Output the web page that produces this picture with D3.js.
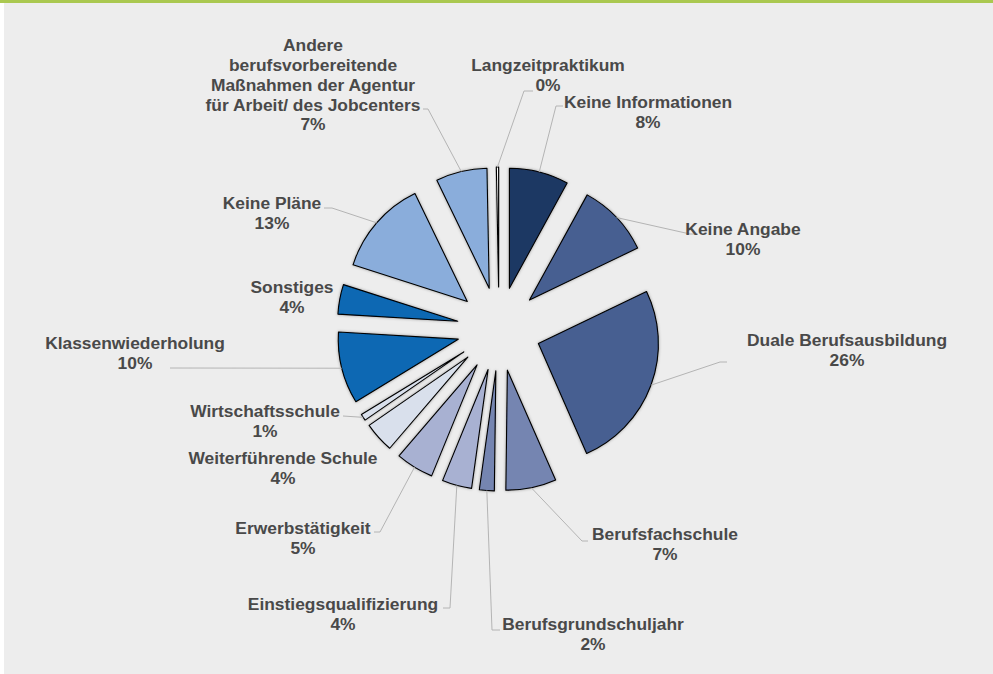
<!DOCTYPE html>
<html>
<head>
<meta charset="utf-8">
<script src="https://cdn.jsdelivr.net/npm/d3@7"></script>
<style>
  body { margin: 0; background: #ffffff; }
  svg { display: block; }
</style>
</head>
<body>
<div id="chart"></div>
<script>
(function () {
    var width = 993,
        height = 674;

    // clockwise from 12 o'clock
    var categories = ["Keine Informationen", "Keine Angabe", "Duale Berufsausbildung", "Berufsfachschule",
        "Berufsgrundschuljahr", "Einstiegsqualifizierung", "Erwerbstätigkeit", "Weiterführende Schule",
        "Wirtschaftsschule", "Klassenwiederholung", "Sonstiges", "Keine Pläne",
        "Andere\nberufsvorbereitende\nMaßnahmen der Agentur\nfür Arbeit/ des Jobcenters", "Langzeitpraktikum"];
    var values = [8.0, 9.9, 25.6, 6.8, 2.0, 4.0, 5.1, 4.1, 0.9, 9.7, 4.0, 12.9, 6.9, 0.3];
    var colors = ["#1e3763", "#465f91", "#465f91", "#7585b1", "#7585b1", "#a8b1d2", "#a8b1d2",
        "#d9e0ec", "#d9e0ec", "#0867b3", "#0867b3", "#8aaddb", "#8aaddb", "#ffffff"];

    // label centre (x, y of first line) and leader start / elbow x
    var labelPos = [[648, 102], [743, 229], [847, 340], [665, 534], [593, 624], [343, 604], [303, 528],
        [283, 458], [265, 411], [135, 343], [292, 287], [272, 203], [313, 45], [548, 65]];
    var leaderStart = [[563, 106, 556], [698, 234, 690], [727, 362, 720], [588, 541, 582], [500, 630, 492],
        [443, 608, 450], [374, 532, 380], null, [343, 416, 343], [170, 368, 170], null,
        [324, 208, 332], [423, 109, 428], [533, 91, 524]];

    var cx = 499, cy = 329, radius = 120, explode = 42, lineH = 19.8;

    var svg = d3.select("#chart")
        .append("svg")
        .attr("width", width)
        .attr("height", height);

    svg.append("rect").attr("x", 0).attr("y", 0).attr("width", width).attr("height", height).attr("fill", "#ffffff");
    svg.append("rect").attr("x", 4).attr("y", 0).attr("width", width - 4).attr("height", height).attr("fill", "#ededed");
    svg.append("rect").attr("x", 0).attr("y", 0).attr("width", width).attr("height", 3).attr("fill", "#aac850");

    var defs = svg.append("defs");
    var f = defs.append("filter").attr("id", "shadow")
        .attr("x", "-20%").attr("y", "-20%").attr("width", "140%").attr("height", "140%");
    f.append("feDropShadow").attr("dx", 0).attr("dy", 0).attr("stdDeviation", 1.6)
        .attr("flood-color", "#000").attr("flood-opacity", 0.35);

    var total = d3.sum(values);
    var data = categories.map(function (c, i) { return { name: c, value: values[i], i: i }; });

    var pie = d3.pie().sort(null).value(function (d) { return d.value; });
    var arc = d3.arc().innerRadius(0).outerRadius(radius);
    var arcs = pie(data);

    function dir(a) { return [Math.sin(a), -Math.cos(a)]; }

    var g = svg.append("g").attr("transform", "translate(" + cx + "," + cy + ")");

    // leader lines
    var leaders = svg.append("g");
    arcs.forEach(function (d, i) {
        var s = leaderStart[i];
        if (!s) return;
        var mid = (d.startAngle + d.endAngle) / 2;
        var u = dir(mid);
        var ex = cx + u[0] * (explode + radius),
            ey = cy + u[1] * (explode + radius);
        leaders.append("polyline")
            .attr("points", [[s[0], s[1]], [s[2], s[1]], [ex, ey]].map(function (p) { return p.join(","); }).join(" "))
            .attr("fill", "none")
            .attr("stroke", "#b4b4b4")
            .attr("stroke-width", 1);
    });

    g.selectAll(".slice")
        .data(arcs)
        .enter().append("path")
        .attr("class", "slice")
        .attr("d", arc)
        .attr("transform", function (d) {
            var u = dir((d.startAngle + d.endAngle) / 2);
            return "translate(" + (u[0] * explode) + "," + (u[1] * explode) + ")";
        })
        .attr("fill", function (d) { return colors[d.data.i]; })
        .attr("stroke", "#000000")
        .attr("stroke-width", 1.1)
        .attr("stroke-linejoin", "round")
        .attr("filter", "url(#shadow)");

    // labels
    var labels = svg.append("g")
        .attr("font-family", "'Liberation Sans', Arial, sans-serif")
        .attr("font-weight", "bold")
        .attr("font-size", "17.4px")
        .attr("fill", "#494949")
        .attr("text-anchor", "middle");

    arcs.forEach(function (d, i) {
        var lines = d.data.name.split("\n");
        lines.push(Math.round(d.data.value / total * 100) + "%");
        var t = labels.append("text")
            .attr("x", labelPos[i][0])
            .attr("y", labelPos[i][1]);
        lines.forEach(function (l, k) {
            t.append("tspan")
                .attr("x", labelPos[i][0])
                .attr("y", labelPos[i][1] + k * lineH)
                .attr("dy", "0.36em")
                .text(l);
        });
    });
})();
</script>
</body>
</html>
